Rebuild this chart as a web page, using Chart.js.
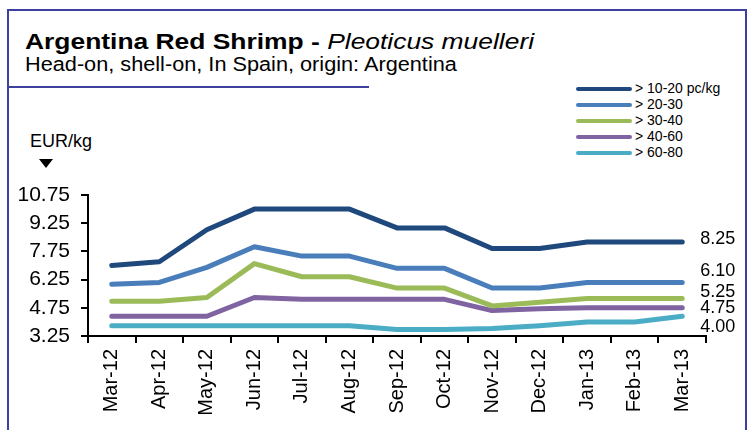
<!DOCTYPE html>
<html>
<head>
<meta charset="utf-8">
<script src="https://cdn.jsdelivr.net/npm/chart.js@4.4.1/dist/chart.umd.min.js"></script>
<style>
  html, body { margin: 0; padding: 0; background: #fff; }
  #wrap { position: relative; width: 751px; height: 430px; overflow: hidden; font-family: "Liberation Sans", Arial, sans-serif; }
  #frame { position: absolute; left: 7px; top: 9px; width: 736px; height: 440px; border: 2px solid #3f3f9f; }
  #rule { position: absolute; left: 8px; top: 86px; width: 361px; height: 2px; background: #3f3f9f; }
  #title { position: absolute; left: 25px; top: 29px; font-size: 22px; line-height: 26px; font-weight: bold; color: #000; white-space: nowrap; transform: scaleX(1.2); transform-origin: 0 0; }
  #title i { font-weight: normal; }
  #sub { position: absolute; left: 25px; top: 52px; font-size: 20px; line-height: 24px; color: #000; white-space: nowrap; transform: scaleX(1.085); transform-origin: 0 0; }
  #unit { position: absolute; left: 30px; top: 131px; font-size: 18px; color: #000; }
  #tri { position: absolute; left: 39px; top: 159px; width: 0; height: 0; border-left: 7px solid transparent; border-right: 7px solid transparent; border-top: 9px solid #000; }
  #legend { position: absolute; left: 576px; top: 80px; font-size: 14px; color: #000; }
  #legend div { height: 16px; line-height: 16px; white-space: nowrap; }
  #legend span { display: inline-block; width: 56px; height: 4px; border-radius: 2px; vertical-align: middle; margin-right: 3px; }
  canvas { position: absolute; left: 0; top: 0; }
</style>
</head>
<body>
<div id="wrap">
  <div id="frame"></div>
  <div id="rule"></div>
  <div id="title">Argentina Red Shrimp - <i>Pleoticus muelleri</i></div>
  <div id="sub">Head-on, shell-on, In Spain, origin: Argentina</div>
  <div id="unit">EUR/kg</div>
  <div id="tri"></div>
  <div id="legend"></div>
  <canvas id="chart" width="751" height="430"></canvas>
</div>
<script>
// data
const months = ['Mar-12', 'Apr-12', 'May-12', 'Jun-12', 'Jul-12', 'Aug-12', 'Sep-12', 'Oct-12', 'Nov-12', 'Dec-12', 'Jan-13', 'Feb-13', 'Mar-13'];
const size10to20 = [7.0, 7.2, 8.9, 10.0, 10.0, 10.0, 9.0, 9.0, 7.9, 7.9, 8.25, 8.25, 8.25];
const size20to30 = [6.0, 6.1, 6.9, 8.0, 7.5, 7.5, 6.85, 6.85, 5.8, 5.8, 6.1, 6.1, 6.1];
const size30to40 = [5.1, 5.1, 5.3, 7.1, 6.4, 6.4, 5.8, 5.8, 4.85, 5.05, 5.25, 5.25, 5.25];
const size40to60 = [4.3, 4.3, 4.3, 5.3, 5.2, 5.2, 5.2, 5.2, 4.6, 4.7, 4.75, 4.75, 4.75];
const size60to80 = [3.8, 3.8, 3.8, 3.8, 3.8, 3.8, 3.6, 3.6, 3.65, 3.8, 4.0, 4.0, 4.3];
const seriesNames = ['> 10-20 pc/kg', '> 20-30', '> 30-40', '> 40-60', '> 60-80'];
const endLabels = ['8.25', '6.10', '5.25', '4.75', '4.00'];
const yTicks = [3.25, 4.75, 6.25, 7.75, 9.25, 10.75];

const colors = ['#1f497d', '#4a7ebb', '#9bbb59', '#8064a2', '#4bacc6'];
const labelNudge = [-3, -11, -6, 0, 5]; // px, keeps end labels apart like the original

const allSeries = [size10to20, size20to30, size30to40, size40to60, size60to80];

const endLabelPlugin = {
    id: 'endLabels',
    afterDatasetsDraw(chart) {
        const ctx = chart.ctx;
        const y = chart.scales.y;
        const x = chart.scales.x;
        const lastX = x.getPixelForValue(months.length - 1);
        ctx.save();
        ctx.font = '18px "Liberation Sans", Arial, sans-serif';
        ctx.fillStyle = '#000';
        ctx.textAlign = 'left';
        ctx.textBaseline = 'middle';
        endLabels.forEach((txt, i) => {
            ctx.fillText(txt, lastX + 18, y.getPixelForValue(parseFloat(txt)) + labelNudge[i]);
        });
        ctx.restore();
    }
};

const chart = new Chart(document.getElementById('chart'), {
    type: 'line',
    data: {
        labels: months,
        datasets: allSeries.map((vals, i) => ({
            label: seriesNames[i],
            data: vals,
            borderColor: colors[i],
            backgroundColor: colors[i],
            borderWidth: 5,
            tension: 0,
            pointRadius: 0,
            borderCapStyle: 'round',
            borderJoinStyle: 'round',
            fill: false
        }))
    },
    options: {
        responsive: false,
        animation: false,
        devicePixelRatio: 1,
        layout: { padding: { top: 195, right: 45, left: 0, bottom: 0 } },
        plugins: { legend: { display: false }, title: { display: false }, tooltip: { enabled: false } },
        scales: {
            x: {
                offset: true,
                grid: { display: true, offset: true, drawOnChartArea: false, drawTicks: true, tickLength: 7, color: '#000', lineWidth: 2 },
                border: { display: true, color: '#000', width: 2 },
                ticks: {
                    color: '#000', autoSkip: false, minRotation: 90, maxRotation: 90, padding: 6,
                    font: { family: '"Liberation Sans", Arial, sans-serif', size: 20 }
                },
                afterFit(scale) { scale.height = 94; }
            },
            y: {
                min: 3.25,
                max: 10.75,
                grid: { display: true, drawOnChartArea: false, drawTicks: true, tickLength: 7, color: '#000', lineWidth: 2 },
                border: { display: true, color: '#000', width: 2 },
                afterBuildTicks(scale) { scale.ticks = yTicks.map(v => ({ value: v })); },
                ticks: {
                    color: '#000', padding: 11,
                    font: { family: '"Liberation Sans", Arial, sans-serif', size: 21 },
                    callback: v => v.toFixed(2)
                },
                afterFit(scale) { scale.width = 88; }
            }
        }
    },
    plugins: [endLabelPlugin]
});

// html legend from the datasets
const legendBox = document.getElementById('legend');
chart.data.datasets.forEach(ds => {
    const row = document.createElement('div');
    const sw = document.createElement('span');
    sw.style.background = ds.borderColor;
    row.appendChild(sw);
    row.appendChild(document.createTextNode(ds.label));
    legendBox.appendChild(row);
});
</script>
</body>
</html>
